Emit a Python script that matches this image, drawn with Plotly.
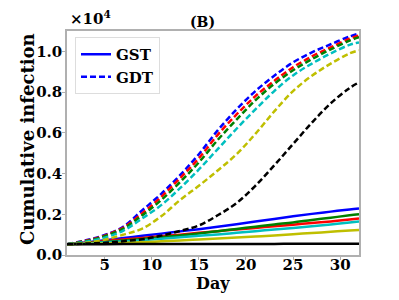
import plotly.graph_objects as go

days = [1, 3, 5, 7, 9, 11, 13, 15, 17, 19, 21, 23, 25, 27, 29, 31, 32]

# GST (solid)
gst_blue   = [530, 620, 720, 830, 940, 1050, 1160, 1270, 1390, 1510, 1640, 1770, 1900, 2020, 2130, 2240, 2290]
gst_red    = [530, 600, 680, 760, 840, 920, 1000, 1090, 1170, 1250, 1330, 1410, 1490, 1570, 1650, 1740, 1790]
gst_green  = [530, 580, 640, 710, 790, 870, 960, 1060, 1170, 1280, 1390, 1500, 1600, 1720, 1830, 1950, 2000]
gst_cyan   = [530, 570, 620, 670, 730, 800, 870, 940, 1010, 1090, 1170, 1250, 1330, 1410, 1500, 1600, 1650]
gst_yellow = [530, 550, 570, 600, 630, 670, 710, 760, 810, 860, 910, 960, 1020, 1080, 1140, 1200, 1230]
gst_black  = [530, 532, 534, 536, 538, 540, 541, 542, 543, 544, 545, 546, 547, 548, 549, 550, 550]

# GDT (dashed)
gdt_blue   = [530, 720, 980, 1400, 2200, 3000, 3920, 4950, 6120, 7150, 8050, 8800, 9460, 9950, 10350, 10730, 10880]
gdt_red    = [530, 700, 950, 1350, 2050, 2850, 3770, 4750, 5900, 6900, 7800, 8550, 9220, 9750, 10200, 10620, 10780]
gdt_green  = [530, 680, 920, 1300, 1950, 2700, 3580, 4550, 5650, 6650, 7600, 8400, 9070, 9620, 10100, 10530, 10690]
gdt_cyan   = [530, 650, 850, 1200, 1800, 2450, 3280, 4200, 5200, 6200, 7150, 8050, 8820, 9400, 9900, 10320, 10440]
gdt_yellow = [530, 600, 750, 1000, 1300, 1900, 2700, 3400, 4150, 4950, 5950, 7050, 8050, 8800, 9400, 9900, 10050]
gdt_black  = [530, 560, 600, 680, 770, 950, 1180, 1450, 1950, 2550, 3400, 4400, 5450, 6500, 7450, 8200, 8480]

y_tickvals = [0, 2000, 4000, 6000, 8000, 10000]
y_ticktext = ["0.0", "0.2", "0.4", "0.6", "0.8", "1.0"]
x_tickvals = [5, 10, 15, 20, 25, 30]
x_ticktext = ["5", "10", "15", "20", "25", "30"]

colors = {"blue": "#0000ff", "red": "#ff0000", "green": "#008000",
          "cyan": "#00bfbf", "yellow": "#bfbf00", "black": "#000000"}

solid = [("blue", gst_blue), ("red", gst_red), ("green", gst_green),
         ("cyan", gst_cyan), ("yellow", gst_yellow), ("black", gst_black)]
dashed = [("blue", gdt_blue), ("red", gdt_red), ("green", gdt_green),
          ("cyan", gdt_cyan), ("yellow", gdt_yellow), ("black", gdt_black)]

FONT = "DejaVu Serif"
OFF = 8                      # page body margin
W, H = 399 - OFF, 300 - OFF
# desired plot area in page pixels
PX0, PX1, PY0, PY1 = 67, 359, 31, 255
L, T = PX0 - OFF, PY0 - OFF
R, B = W - (PX1 - OFF), H - (PY1 - OFF)
PW, PH = PX1 - PX0, PY1 - PY0

def px(xp):  # page x -> paper x
    return (xp - PX0) / PW

def py(yp):  # page y -> paper y
    return (PY1 - yp) / PH

fig = go.Figure()

for i, (c, vals) in enumerate(solid):
    fig.add_trace(go.Scatter(x=days, y=vals, mode="lines", line_shape="spline",
                             line=dict(color=colors[c], width=2.5),
                             name="GST", showlegend=(i == 0)))
for i, (c, vals) in enumerate(dashed):
    fig.add_trace(go.Scatter(x=days, y=vals, mode="lines", line_shape="spline",
                             line=dict(color=colors[c], width=2.5, dash="6px,3px"),
                             name="GDT", showlegend=(i == 0)))

fig.update_layout(
    template="none",
    width=W, height=H,
    margin=dict(l=L, r=R, t=T, b=B, pad=0, autoexpand=False),
    paper_bgcolor="white", plot_bgcolor="white",
    font=dict(family=FONT, size=15, color="black", weight="bold"),
    showlegend=True,
    legend=dict(x=px(75), y=py(37), xanchor="left", yanchor="top",
                bgcolor="white", bordercolor="#dddddd", borderwidth=1,
                font=dict(family=FONT, size=15, color="black", weight="bold"),
                tracegroupgap=0, itemwidth=30),
)
fig.update_xaxes(range=[1, 32], tickvals=x_tickvals, ticktext=["<b>%s</b>" % t for t in x_ticktext],
                 showgrid=False, zeroline=False, automargin=False,
                 showline=True, linecolor="#b0b0b0", linewidth=1.5, mirror=True,
                 ticks="outside", ticklen=3, tickcolor="#b0b0b0", ticklabelstandoff=-8,
                 tickfont=dict(family=FONT, size=15, color="black", weight="bold"))
fig.update_yaxes(range=[0, 11000], tickvals=y_tickvals, ticktext=["<b>%s</b>" % t for t in y_ticktext],
                 showgrid=False, zeroline=False, automargin=False,
                 showline=True, linecolor="#b0b0b0", linewidth=1.5, mirror=True,
                 ticks="outside", ticklen=3, tickcolor="#b0b0b0", ticklabelstandoff=-3,
                 tickfont=dict(family=FONT, size=15, color="black", weight="bold"))

# axis titles
fig.add_annotation(text="<b>Day</b>", xref="paper", yref="paper", x=px(213), y=py(283),
                   xanchor="center", yanchor="middle", showarrow=False,
                   font=dict(family=FONT, size=16, color="black"))
fig.add_annotation(text="<b>Cumulative infection</b>", xref="paper", yref="paper", x=px(27), y=py(139),
                   xanchor="center", yanchor="middle", textangle=-90,
                   showarrow=False, font=dict(family=FONT, size=18, color="black"))

fig.add_annotation(text="<b>×10<sup>4</sup></b>", xref="paper", yref="paper", x=px(68), y=py(18),
                   xanchor="left", yanchor="middle", showarrow=False,
                   font=dict(family=FONT, size=15, color="black"))
fig.add_annotation(text="<b>(B)</b>", xref="paper", yref="paper", x=px(202), y=py(22),
                   xanchor="center", yanchor="middle", showarrow=False,
                   font=dict(family=FONT, size=14, color="black"))

fig.write_html("out.html")
